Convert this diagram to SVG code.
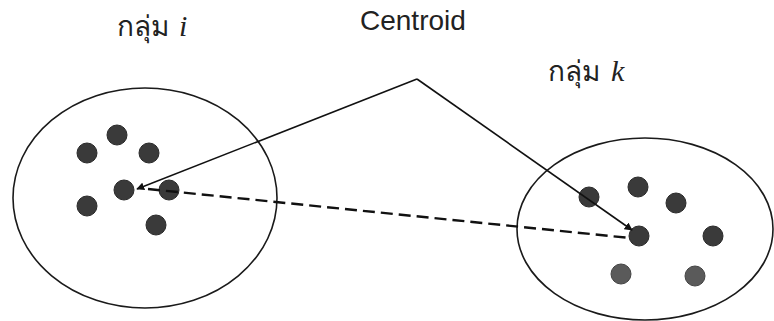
<svg xmlns="http://www.w3.org/2000/svg" width="774" height="321" viewBox="0 0 774 321">
<style>
.lbl{font-family:"Liberation Sans","Noto Sans",sans-serif;font-size:28px;fill:#222}
.th{font-family:"Noto Sans","Liberation Sans",sans-serif;font-size:28px;fill:#222}
.var{font-family:"Liberation Serif",serif;font-style:italic;font-size:30px;fill:#222}
.cl{fill:none;stroke:#1a1a1a;stroke-width:1.6}
.pt{fill:#3a3a3a;stroke:#2a2a2a;stroke-width:1}
.pt2{fill:#5a5a5a;stroke:#444;stroke-width:1}
.ar{fill:none;stroke:#111;stroke-width:1.6}
.da{fill:none;stroke:#111;stroke-width:2.4;stroke-dasharray:12 6}
</style>
<defs>
<marker id="ah" viewBox="0 0 10 10" refX="9" refY="5" markerWidth="8" markerHeight="8" orient="auto" markerUnits="userSpaceOnUse">
<path d="M0,0 L10,5 L0,10 z" fill="#111"/>
</marker>
</defs>
<rect width="774" height="321" fill="#fff"/>
<g id="label-i"><text x="117" y="36" class="th">กลุ่ม</text><text x="179" y="36" class="var">i</text></g>
<g id="label-centroid"><text x="360" y="30" class="lbl">Centroid</text></g>
<g id="label-k"><text x="548" y="81" class="th">กลุ่ม</text><text x="611" y="81" class="var">k</text></g>
<g id="cluster-i">
<ellipse cx="145" cy="198" rx="132" ry="110" class="cl"/>
<circle cx="117" cy="135" r="10" class="pt"/>
<circle cx="87" cy="153" r="10" class="pt"/>
<circle cx="149" cy="153" r="10" class="pt"/>
<circle cx="124" cy="190" r="10" class="pt"/>
<circle cx="169" cy="190" r="10" class="pt"/>
<circle cx="87" cy="206" r="10" class="pt"/>
<circle cx="156" cy="225" r="10" class="pt"/>
</g>
<g id="cluster-k">
<ellipse cx="645" cy="229" rx="128" ry="91" class="cl"/>
<circle cx="589" cy="197" r="10" class="pt"/>
<circle cx="638" cy="187" r="10" class="pt"/>
<circle cx="676" cy="203" r="10" class="pt"/>
<circle cx="639" cy="236" r="10" class="pt"/>
<circle cx="713" cy="236" r="10" class="pt"/>
<circle cx="621" cy="274" r="10" class="pt2"/>
<circle cx="695" cy="276" r="10" class="pt2"/>
</g>
<g id="connectors">
<path d="M417,79 L137,189" class="ar" marker-end="url(#ah)"/>
<path d="M417,79 L632,230" class="ar" marker-end="url(#ah)"/>
<path d="M148,189 L630,238" class="da"/>
</g>
</svg>
